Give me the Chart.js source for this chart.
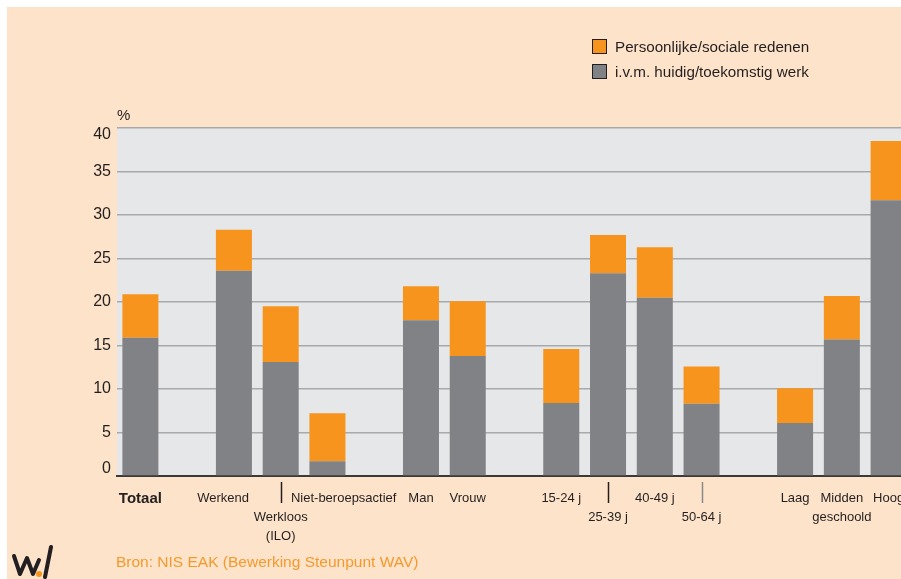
<!DOCTYPE html>
<html>
<head>
<meta charset="utf-8">
<script src="https://cdn.jsdelivr.net/npm/chart.js@4"></script>
<style>
    html, body {
        margin: 0;
        width: 901px;
        height: 579px;
        overflow: hidden;
        background: #ffffff;
        font-family: "Liberation Sans", Arial, sans-serif;
    }
    #panel {
        position: absolute;
        left: 7px;
        top: 7px;
        width: 1000px;
        height: 600px;
        background: #fde3c9;
    }
    #chart {
        position: absolute;
        left: 0;
        top: 0;
    }
    .legend {
        position: absolute;
        left: 592px;
        top: 34px;
        font-size: 15.2px;
        color: #231f20;
    }
    .legend-item {
        display: flex;
        align-items: center;
        height: 25px;
    }
    .legend-box {
        width: 13px;
        height: 13px;
        border: 1px solid #231f20;
        margin-right: 8px;
    }
    .unit {
        position: absolute;
        left: 117px;
        top: 106px;
        font-size: 15px;
        color: #231f20;
    }
    .source {
        position: absolute;
        left: 116px;
        top: 553px;
        font-size: 15.5px;
        color: #f39a2e;
    }
    .logo {
        position: absolute;
        left: 10px;
        top: 543px;
    }
</style>
</head>
<body>
<div id="panel"></div>
<canvas id="chart" width="960" height="579"></canvas>
<div class="legend" id="legend"></div>
<div class="unit">%</div>
<div class="source">Bron: NIS EAK (Bewerking Steunpunt WAV)</div>
<svg class="logo" width="48" height="36" viewBox="0 0 48 36">
    <polyline points="4,13 10,31 17,15 23,31 29,17" fill="none" stroke="#231f20" stroke-width="4" stroke-linejoin="round" stroke-linecap="round"/>
    <line x1="35" y1="34" x2="41" y2="4" stroke="#231f20" stroke-width="4" stroke-linecap="round"/>
    <circle cx="29" cy="31" r="3" fill="#f7941d"/>
</svg>

<script>
// ============================================
// DATA
// ============================================

// categories ('' = empty slot between groups, leading '' line = label pushed down)
const categories = [
    'Totaal', '',
    'Werkend      ', ['', 'Werkloos', '(ILO)'], '         Niet-beroepsactief', '',
    'Man', 'Vrouw', '',
    '15-24 j', ['', '25-39 j'], '40-49 j', ['', '50-64 j'], '',
    'Laag', ['Midden', 'geschoold'], 'Hoog'
];

// i.v.m. huidig/toekomstig werk
const werkValues = [
    15.9, null,
    23.6, 13.1, 1.7, null,
    17.9, 13.8, null,
    8.4, 23.3, 20.5, 8.3, null,
    6.1, 15.7, 31.7
];

// Persoonlijke/sociale redenen
const persoonlijkValues = [
    5.0, null,
    4.7, 6.4, 5.5, null,
    3.9, 6.3, null,
    6.2, 4.4, 5.8, 4.3, null,
    4.0, 5.0, 6.8
];

const yTicks = [0, 5, 10, 15, 20, 25, 30, 35, 40];

const GRAY = '#808285';
const ORANGE = '#f7941d';
const INK = '#231f20';

Chart.defaults.font.family = '"Liberation Sans", Arial, sans-serif';
Chart.defaults.color = INK;

// Plot background
const plotBackground = {
    id: 'plotBackground',
    beforeDraw(chart) {
        const { ctx, chartArea } = chart;
        ctx.save();
        ctx.fillStyle = '#e6e7e8';
        ctx.fillRect(chartArea.left, chartArea.top, chartArea.right - chartArea.left, chartArea.bottom - chartArea.top);
        ctx.restore();
    }
};

// Leader lines above labels that were pushed down
const leaderLines = {
    id: 'leaderLines',
    afterDraw(chart) {
        const { ctx, chartArea } = chart;
        const x = chart.scales.x;
        let n = 0;
        categories.forEach((c, i) => {
            if (!Array.isArray(c) || c[0] !== '') return;
            const px = Math.round(x.getPixelForTick(i)) + 0.5;
            ctx.save();
            ctx.strokeStyle = n === 2 ? '#8a8a8a' : INK;
            ctx.lineWidth = 1.5;
            ctx.beginPath();
            ctx.moveTo(px, chartArea.bottom + 6);
            ctx.lineTo(px, chartArea.bottom + 27);
            ctx.stroke();
            ctx.restore();
            n++;
        });
    }
};

const chart = new Chart(document.getElementById('chart'), {
    type: 'bar',
    data: {
        labels: categories,
        datasets: [
            {
                label: 'i.v.m. huidig/toekomstig werk',
                data: werkValues,
                backgroundColor: GRAY,
                barPercentage: 0.77,
                categoryPercentage: 1
            },
            {
                label: 'Persoonlijke/sociale redenen',
                data: persoonlijkValues,
                backgroundColor: ORANGE,
                barPercentage: 0.77,
                categoryPercentage: 1
            }
        ]
    },
    options: {
        responsive: false,
        animation: false,
        layout: {
            padding: { top: 128, right: 48, left: 0, bottom: 0 }
        },
        plugins: {
            legend: { display: false },
            tooltip: { enabled: false }
        },
        scales: {
            x: {
                stacked: true,
                afterFit(scale) { scale.height = 103; },
                grid: { display: false, drawTicks: false },
                border: { display: true, color: '#3a3a3a', width: 2 },
                ticks: {
                    autoSkip: false,
                    maxRotation: 0,
                    padding: 13,
                    color: INK,
                    font: (ctx) => ctx.index === 0
                        ? { size: 15, weight: 'bold', lineHeight: '19px' }
                        : { size: 13, lineHeight: '19px' }
                }
            },
            y: {
                stacked: true,
                min: 0,
                max: 40,
                afterFit(scale) { scale.width = 117; },
                afterBuildTicks(scale) { scale.ticks = yTicks.map(v => ({ value: v })); },
                grid: { color: '#a7a9ac', lineWidth: 1.5, drawTicks: false },
                border: { display: false },
                ticks: {
                    padding: 6,
                    color: INK,
                    // top and bottom labels sit inside the plot, as in the original
                    callback: (v) => v === 40 ? ['', '40'] : v === 0 ? ['0', ''] : String(v),
                    font: { size: 16, lineHeight: '14px' }
                }
            }
        }
    },
    plugins: [plotBackground, leaderLines]
});

// HTML Legend (reverse order, orange first)
const legendEl = document.getElementById('legend');
chart.data.datasets.slice().reverse().forEach(ds => {
    const item = document.createElement('div');
    item.className = 'legend-item';
    item.innerHTML = `<span class="legend-box" style="background:${ds.backgroundColor}"></span><span>${ds.label}</span>`;
    legendEl.appendChild(item);
});
</script>
</body>
</html>
